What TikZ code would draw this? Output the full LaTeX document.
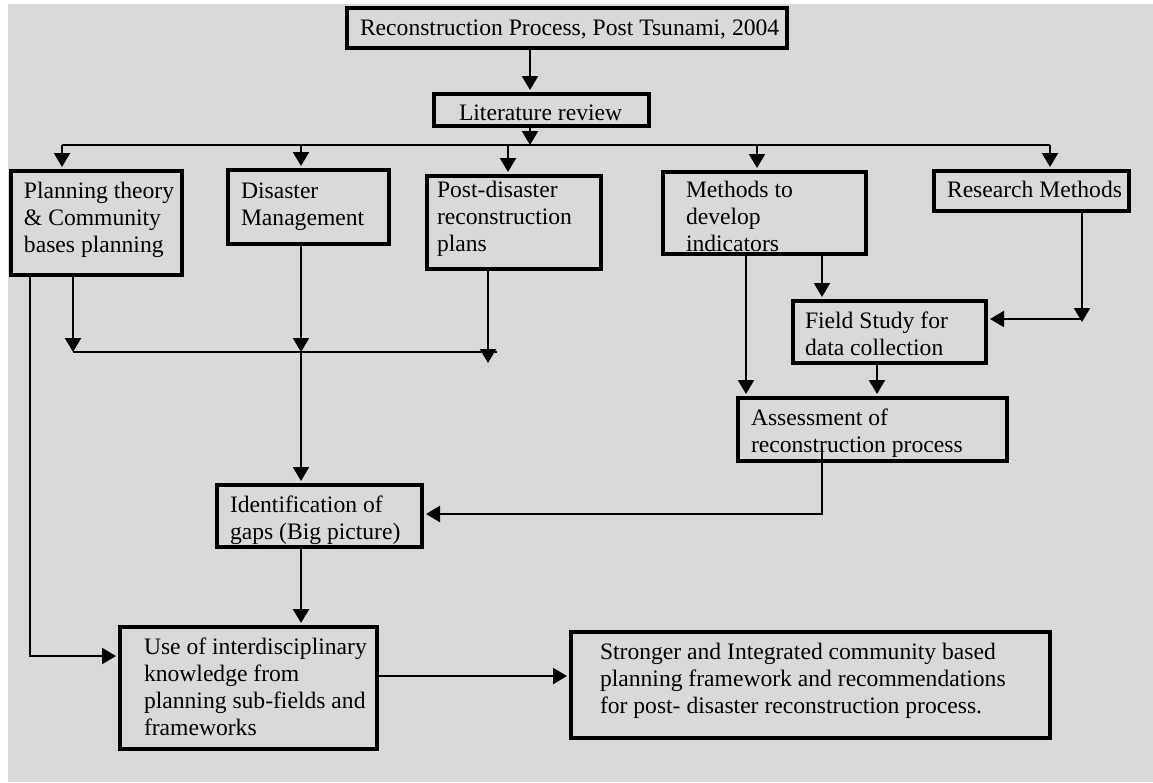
\documentclass[tikz,border=0pt]{standalone}
\usepackage{fontspec}
\setmainfont{Liberation Serif}
\usetikzlibrary{arrows.meta}
\definecolor{panelgray}{RGB}{217,217,217}
% fixed-size text cell: width, height, left padding, first baseline from top, text
\newcommand\boxtext[5]{\parbox[c][#2][t]{#1}{\raggedright\leftskip=#3\relax\rule{0pt}{#4}#5}}

\begin{document}
\begin{tikzpicture}[x=1pt,y=-1pt,
  stage/.style={draw=black, line width=4pt, fill=panelgray, inner sep=0pt,
    anchor=north west, font=\fontsize{23.6}{27}\selectfont},
  link/.style={line width=2.2pt},
  flow/.style={link, -{Triangle[width=16pt,length=14pt]}},
  into/.style={flow, shorten >=2pt}]

\useasboundingbox (0,0) rectangle (1153,782);
\fill[panelgray] (8,4) rectangle (1153,782);

% stages
\node[stage] (top) at (345,6) {\boxtext{440pt}{40pt}{13pt}{27pt}{Reconstruction Process, Post Tsunami, 2004}};
\node[stage] (lit) at (432,92) {\boxtext{215pt}{32pt}{25pt}{26pt}{Literature review}};
\node[stage] (plan) at (9,169) {\boxtext{171pt}{104pt}{13pt}{27pt}{Planning theory\\ \& Community\\ bases planning}};
\node[stage] (dis) at (226,168) {\boxtext{161pt}{74pt}{13pt}{28pt}{Disaster\\ Management}};
\node[stage] (post) at (425,174) {\boxtext{174pt}{93pt}{10pt}{21pt}{Post-disaster\\ reconstruction\\ plans}};
\node[stage] (meth) at (661,170) {\boxtext{203pt}{82pt}{23pt}{25pt}{Methods to\\ develop\\ indicators}};
\node[stage] (res) at (932,169) {\boxtext{195pt}{40pt}{13pt}{26pt}{Research Methods}};
\node[stage] (field) at (791,299) {\boxtext{193pt}{62pt}{12pt}{27pt}{Field Study for\\ data collection}};
\node[stage] (assess) at (736,396) {\boxtext{269pt}{63pt}{13pt}{27pt}{Assessment of\\ reconstruction process}};
\node[stage] (ident) at (215,483) {\boxtext{205pt}{62pt}{13pt}{27pt}{Identification of\\ gaps (Big picture)}};
\node[stage] (use) at (118,625) {\boxtext{257pt}{122pt}{24pt}{27pt}{Use of interdisciplinary\\ knowledge from\\ planning sub-fields and\\ frameworks}};
\node[stage] (strong) at (569,630) {\boxtext{479pt}{106pt}{29pt}{27pt}{Stronger and Integrated community based\\ planning framework and recommendations\\ for post- disaster reconstruction process.}};

% routing points
\coordinate (xLit) at (530,0);
\coordinate (busL) at (62,145);
\coordinate (busR) at (1050,145);
\coordinate (xDisB) at (301,0);
\coordinate (xPostB) at (508,0);
\coordinate (xMethB) at (757,0);
\coordinate (mergeL) at (73,352);
\coordinate (mergeR) at (497,352);
\coordinate (xDis) at (301,0);
\coordinate (postTip) at (488,363);
\coordinate (useIn) at (30,656);
\coordinate (xMethA) at (746,0);
\coordinate (xMethF) at (822,0);
\coordinate (xFieldA) at (877,0);
\coordinate (resTip) at (1082,322);
\coordinate (resJoin) at (1082,319);
\coordinate (assTop) at (822,447);
\coordinate (assBend) at (822,514);
\coordinate (yOut) at (0,676);

% top of the chart
\draw[into] (top.south -| xLit) -- (lit.north -| xLit);
\draw[flow] (lit.south -| xLit) -- (xLit |- busL);
\draw[link] (busL) -- (busR);
\draw[into] (busL) -- (plan.north -| busL);
\draw[into] (xDisB |- busL) -- (dis.north -| xDisB);
\draw[into] (xPostB |- busL) -- (post.north -| xPostB);
\draw[into] (xMethB |- busL) -- (meth.north -| xMethB);
\draw[into] (busR) -- (res.north -| busR);

% literature branches merging
\draw[link] (mergeL) -- (mergeR);
\draw[flow] (plan.south -| mergeL) -- (mergeL);
\draw[flow] (dis.south -| xDis) -- (xDis |- mergeL);
\draw[into] (xDis |- mergeL) -- (ident.north -| xDis);
\draw[flow] (post.south -| postTip) -- (postTip);
\draw[into] (plan.south -| useIn) -- (useIn) -- (use.west |- useIn);

% methods branch
\draw[into] (meth.south -| xMethA) -- (assess.north -| xMethA);
\draw[into] (meth.south -| xMethF) -- (field.north -| xMethF);
\draw[flow] (res.south -| resTip) -- (resTip);
\draw[into] (resJoin) -- (field.east |- resJoin);
\draw[into] (field.south -| xFieldA) -- (assess.north -| xFieldA);
\draw[into] (assTop) -- (assBend) -- (ident.east |- assBend);

% towards the outcome
\draw[into] (ident.south -| xDis) -- (use.north -| xDis);
\draw[into] (use.east |- yOut) -- (strong.west |- yOut);
\end{tikzpicture}
\end{document}
